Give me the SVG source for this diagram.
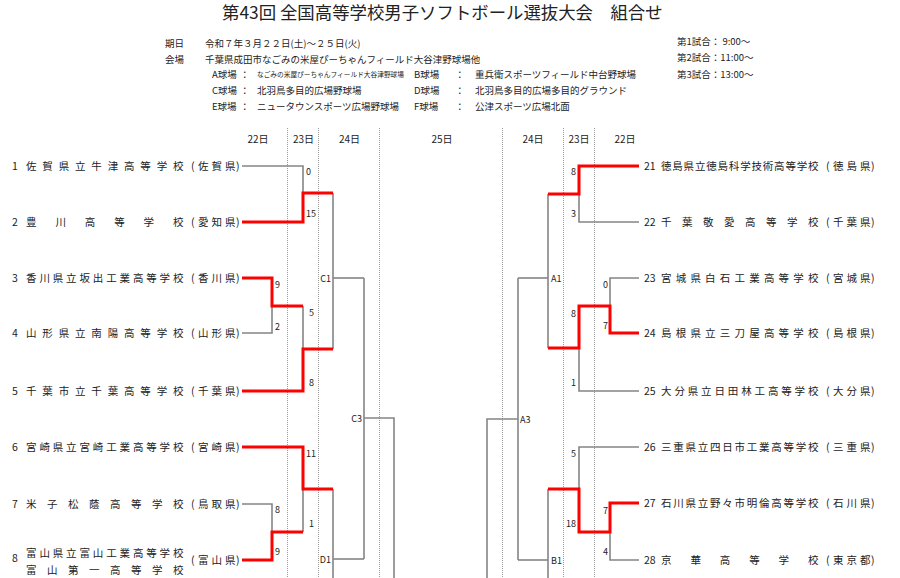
<svg xmlns="http://www.w3.org/2000/svg" width="900" height="578" viewBox="0 0 900 578">
<style>
text{font-family:"Noto Sans CJK JP","Noto Sans",sans-serif;fill:#222}
.t{font-size:17.4px}
.h{font-size:9.5px}
.s{font-size:6.7px}
.n{font-size:10.5px}
.day{font-size:10px;text-anchor:middle}
.sc{font-size:9px}
.e{text-anchor:end}
.lb{font-size:9px}
.g{stroke:#858585;stroke-width:1.6;fill:none}
.r{stroke:#ff0000;stroke-width:3;fill:none;stroke-linejoin:miter}
.d{stroke:#9a9a9a;stroke-width:1;stroke-dasharray:1 1;fill:none}
</style>
<rect width="900" height="578" fill="#fff"/>
<g id="header">
<text class="t" x="222" y="19">第43回 全国高等学校男子ソフトボール選抜大会　組合せ</text>
<text class="h" x="165" y="46.5">期日</text>
<text class="h" x="205" y="46.5">令和７年３月２２日(土)～２５日(火)</text>
<text class="h" x="165" y="62.5">会場</text>
<text class="h" x="205" y="62.5">千葉県成田市なごみの米屋ぴーちゃんフィールド大谷津野球場他</text>
<text class="h" x="212" y="77.5">A球場</text><text class="h" x="240" y="77.5">：</text>
<text class="s" x="257" y="77">なごみの米屋ぴーちゃんフィールド大谷津野球場</text>
<text class="h" x="414" y="77.5">B球場</text><text class="h" x="455" y="77.5">：</text>
<text class="h" x="475" y="77.5">重兵衛スポーツフィールド中台野球場</text>
<text class="h" x="212" y="93.5">C球場</text><text class="h" x="240" y="93.5">：</text>
<text class="h" x="257" y="93.5">北羽鳥多目的広場野球場</text>
<text class="h" x="414" y="93.5">D球場</text><text class="h" x="455" y="93.5">：</text>
<text class="h" x="475" y="93.5">北羽鳥多目的広場多目的グラウンド</text>
<text class="h" x="212" y="109.5">E球場</text><text class="h" x="240" y="109.5">：</text>
<text class="h" x="257" y="109.5">ニュータウンスポーツ広場野球場</text>
<text class="h" x="414" y="109.5">F球場</text><text class="h" x="455" y="109.5">：</text>
<text class="h" x="475" y="109.5">公津スポーツ広場北面</text>
<text class="h" x="677" y="44.5">第1試合： 9:00～</text>
<text class="h" x="677" y="60.5">第2試合：11:00～</text>
<text class="h" x="677" y="77.5">第3試合：13:00～</text>
</g>
<g id="days">
<text class="day" x="258" y="142.5">22日</text>
<text class="day" x="303.5" y="142.5">23日</text>
<text class="day" x="349.5" y="142.5">24日</text>
<text class="day" x="442" y="142.5">25日</text>
<text class="day" x="533" y="142.5">24日</text>
<text class="day" x="579" y="142.5">23日</text>
<text class="day" x="625" y="142.5">22日</text>
</g>
<g id="gridlines">
<path class="d" d="M287.5,128V578M318.5,128V578M379.5,128V578M502.5,128V578M563.5,128V578M594.5,128V578"/>
</g>
<g id="connectors">
<path class="g" d="M242,166H303V193"/>
<path class="g" d="M242,333H272V306"/>
<path class="g" d="M303,306V349"/>
<path class="g" d="M333,193V349"/>
<path class="g" d="M333,278H364"/>
<path class="g" d="M242,504H272V532"/>
<path class="g" d="M303,489V532"/>
<path class="g" d="M333,489V578"/>
<path class="g" d="M333,559H364"/>
<path class="g" d="M364,278V559"/>
<path class="g" d="M364,418H394V578"/>
<path class="g" d="M639,222H579V194"/>
<path class="g" d="M639,278H610V306"/>
<path class="g" d="M639,391H579V348"/>
<path class="g" d="M548,194V348"/>
<path class="g" d="M548,278H518"/>
<path class="g" d="M639,447H579V489"/>
<path class="g" d="M639,560H610V532"/>
<path class="g" d="M548,489V578"/>
<path class="g" d="M548,560H518"/>
<path class="g" d="M518,278V560"/>
<path class="g" d="M518,419H487V578"/>
<path class="r" d="M242,222H303V193H333"/>
<path class="r" d="M242,278H272V306H303"/>
<path class="r" d="M242,391H303V349H333"/>
<path class="r" d="M242,447H303V489H333"/>
<path class="r" d="M242,560H272V532H303"/>
<path class="r" d="M639,166H579V194H548"/>
<path class="r" d="M639,333H610V306H579V348H548"/>
<path class="r" d="M639,503H610V532H579V489H548"/>
</g>
<g id="matches">
<text class="lb e" x="331" y="281.5">C1</text>
<text class="lb e" x="331" y="562.5">D1</text>
<text class="lb e" x="362" y="421.5">C3</text>
<text class="lb" x="551" y="281.5">A1</text>
<text class="lb" x="551" y="563.5">B1</text>
<text class="lb" x="520" y="422.5">A3</text>
</g>
<g id="scores">
<text class="sc" x="306" y="175.3">0</text>
<text class="sc" x="306" y="217.3">15</text>
<text class="sc" x="275" y="288.3">9</text>
<text class="sc" x="275" y="330.3">2</text>
<text class="sc" x="309" y="316.3">5</text>
<text class="sc" x="309" y="386.3">8</text>
<text class="sc" x="306" y="457.3">11</text>
<text class="sc" x="275" y="513.3">8</text>
<text class="sc" x="275" y="555.3">9</text>
<text class="sc" x="309" y="527.3">1</text>
<text class="sc e" x="576" y="175.3">8</text>
<text class="sc e" x="576" y="217.3">3</text>
<text class="sc e" x="608" y="288.3">0</text>
<text class="sc e" x="576" y="317.3">8</text>
<text class="sc e" x="608" y="329.3">7</text>
<text class="sc e" x="576" y="386.3">1</text>
<text class="sc e" x="576" y="457.3">5</text>
<text class="sc e" x="608" y="514.3">7</text>
<text class="sc e" x="576" y="527.3">18</text>
<text class="sc e" x="608" y="555.3">4</text>
</g>
<g id="team-1"><text class="n" y="169.8"><tspan x="12">1</tspan><tspan x="26 42.3 58.7 75 91.3 107.7 124 140.3 156.7 173">佐賀県立牛津高等学校</tspan><tspan x="191 198 211.5 225 236">(佐賀県)</tspan></text></g>
<g id="team-2"><text class="n" y="225.8"><tspan x="12">2</tspan><tspan x="26 55.4 84.8 114.2 143.6 173">豊川高等学校</tspan><tspan x="191 198 211.5 225 236">(愛知県)</tspan></text></g>
<g id="team-3"><text class="n" y="281.8"><tspan x="12">3</tspan><tspan x="26 39.4 52.7 66.1 79.5 92.8 106.2 119.5 132.9 146.3 159.6 173">香川県立坂出工業高等学校</tspan><tspan x="191 198 211.5 225 236">(香川県)</tspan></text></g>
<g id="team-4"><text class="n" y="336.8"><tspan x="12">4</tspan><tspan x="26 42.3 58.7 75 91.3 107.7 124 140.3 156.7 173">山形県立南陽高等学校</tspan><tspan x="191 198 211.5 225 236">(山形県)</tspan></text></g>
<g id="team-5"><text class="n" y="394.8"><tspan x="12">5</tspan><tspan x="26 42.3 58.7 75 91.3 107.7 124 140.3 156.7 173">千葉市立千葉高等学校</tspan><tspan x="191 198 211.5 225 236">(千葉県)</tspan></text></g>
<g id="team-6"><text class="n" y="450.8"><tspan x="12">6</tspan><tspan x="26 39.4 52.7 66.1 79.5 92.8 106.2 119.5 132.9 146.3 159.6 173">宮崎県立宮崎工業高等学校</tspan><tspan x="191 198 211.5 225 236">(宮崎県)</tspan></text></g>
<g id="team-7"><text class="n" y="507.8"><tspan x="12">7</tspan><tspan x="26 47 68 89 110 131 152 173">米子松蔭高等学校</tspan><tspan x="191 198 211.5 225 236">(鳥取県)</tspan></text></g>
<g id="team-8"><text class="n"><tspan x="12" y="561.8">8</tspan><tspan x="26 39.4 52.7 66.1 79.5 92.8 106.2 119.5 132.9 146.3 159.6 173" y="556.5">富山県立富山工業高等学校</tspan><tspan x="26 47 68 89 110 131 152 173" y="573.8">富山第一高等学校</tspan><tspan x="191 198 211.5 225 236" y="563.8">(富山県)</tspan></text></g>
<g id="team-21"><text class="n" y="169.8"><tspan x="644">21</tspan><tspan x="661 672.3 683.6 694.9 706.2 717.5 728.8 740.2 751.5 762.8 774.1 785.4 796.7 808">徳島県立徳島科学技術高等学校</tspan><tspan x="826 833 846.5 860 871">(徳島県)</tspan></text></g>
<g id="team-22"><text class="n" y="225.8"><tspan x="644">22</tspan><tspan x="661 682 703 724 745 766 787 808">千葉敬愛高等学校</tspan><tspan x="826 833 846.5 860 871">(千葉県)</tspan></text></g>
<g id="team-23"><text class="n" y="281.8"><tspan x="644">23</tspan><tspan x="661 675.7 690.4 705.1 719.8 734.5 749.2 763.9 778.6 793.3 808">宮城県白石工業高等学校</tspan><tspan x="826 833 846.5 860 871">(宮城県)</tspan></text></g>
<g id="team-24"><text class="n" y="336.8"><tspan x="644">24</tspan><tspan x="661 675.7 690.4 705.1 719.8 734.5 749.2 763.9 778.6 793.3 808">島根県立三刀屋高等学校</tspan><tspan x="826 833 846.5 860 871">(島根県)</tspan></text></g>
<g id="team-25"><text class="n" y="394.8"><tspan x="644">25</tspan><tspan x="661 674.4 687.7 701.1 714.5 727.8 741.2 754.5 767.9 781.3 794.6 808">大分県立日田林工高等学校</tspan><tspan x="826 833 846.5 860 871">(大分県)</tspan></text></g>
<g id="team-26"><text class="n" y="450.8"><tspan x="644">26</tspan><tspan x="661 673.25 685.5 697.75 710 722.25 734.5 746.75 759 771.25 783.5 795.75 808">三重県立四日市工業高等学校</tspan><tspan x="826 833 846.5 860 871">(三重県)</tspan></text></g>
<g id="team-27"><text class="n" y="506.8"><tspan x="644">27</tspan><tspan x="661 673.25 685.5 697.75 710 722.25 734.5 746.75 759 771.25 783.5 795.75 808">石川県立野々市明倫高等学校</tspan><tspan x="826 833 846.5 860 871">(石川県)</tspan></text></g>
<g id="team-28"><text class="n" y="563.8"><tspan x="644">28</tspan><tspan x="661 690.4 719.8 749.2 778.6 808">京華高等学校</tspan><tspan x="826 833 846.5 860 871">(東京都)</tspan></text></g>
</svg>
